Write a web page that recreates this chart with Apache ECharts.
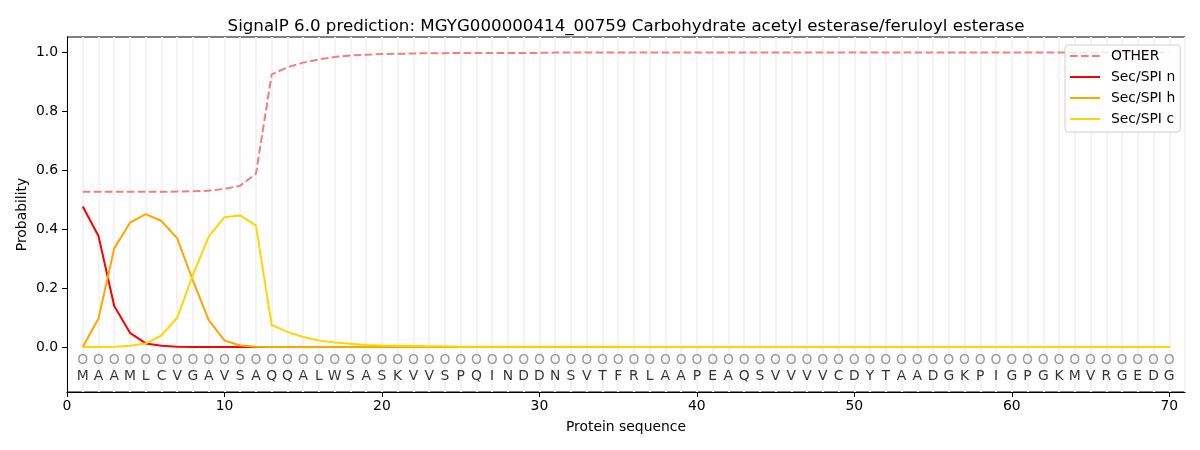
<!DOCTYPE html>
<html>
<head>
<meta charset="utf-8">
<script src="https://cdn.jsdelivr.net/npm/echarts@6/dist/echarts.min.js"></script>
<style>html,body{margin:0;padding:0;background:#fff}#c{width:1200px;height:450px}</style>
</head>
<body>
<div id="c"></div>
<script>
const TITLE = "SignalP 6.0 prediction: MGYG000000414_00759 Carbohydrate acetyl esterase/feruloyl esterase";
const sequence = ["M","A","A","M","L","C","V","G","A","V","S","A","Q","Q","A","L","W","S","A","S","K","V","V","S","P","Q","I","N","D","D","N","S","V","T","F","R","L","A","A","P","E","A","Q","S","V","V","V","V","C","D","Y","T","A","A","D","G","K","P","I","G","P","G","K","M","V","R","G","E","D","G"];
const positions = [1,2,3,4,5,6,7,8,9,10,11,12,13,14,15,16,17,18,19,20,21,22,23,24,25,26,27,28,29,30,31,32,33,34,35,36,37,38,39,40,41,42,43,44,45,46,47,48,49,50,51,52,53,54,55,56,57,58,59,60,61,62,63,64,65,66,67,68,69,70];
const other = [0.527,0.527,0.527,0.527,0.527,0.527,0.528,0.529,0.531,0.537,0.548,0.588,0.926,0.950,0.966,0.977,0.985,0.990,0.993,0.995,0.996,0.997,0.998,0.998,0.999,0.999,0.999,0.999,0.999,0.999,1,1,1,1,1,1,1,1,1,1,1,1,1,1,1,1,1,1,1,1,1,1,1,1,1,1,1,1,1,1,1,1,1,1,1,1,1,1,1,1];
const secN = [0.477,0.377,0.139,0.048,0.012,0.004,0.001,0,0,0,0,0,0,0,0,0,0,0,0,0,0,0,0,0,0,0,0,0,0,0,0,0,0,0,0,0,0,0,0,0,0,0,0,0,0,0,0,0,0,0,0,0,0,0,0,0,0,0,0,0,0,0,0,0,0,0,0,0,0,0];
const secH = [0,0.097,0.335,0.422,0.451,0.428,0.369,0.225,0.091,0.022,0.005,0.001,0,0,0,0,0,0,0,0,0,0,0,0,0,0,0,0,0,0,0,0,0,0,0,0,0,0,0,0,0,0,0,0,0,0,0,0,0,0,0,0,0,0,0,0,0,0,0,0,0,0,0,0,0,0,0,0,0,0];
const secC = [0,0,0.001,0.004,0.012,0.039,0.100,0.245,0.375,0.441,0.447,0.412,0.074,0.051,0.034,0.022,0.015,0.011,0.007,0.005,0.004,0.003,0.002,0.002,0.001,0.001,0.001,0.001,0.001,0.001,0.001,0.001,0.001,0.001,0.001,0,0,0,0,0,0,0,0,0,0,0,0,0,0,0,0,0,0,0,0,0,0,0,0,0,0,0,0,0,0,0,0,0,0,0];
const yTicks = [0,0.2,0.4,0.6,0.8,1.0];
const MARK_Y = -0.045;
const LETTER_Y = -0.1;

const FONT = "DejaVu Sans";
const FS = 13.9;
const pair = arr => positions.map((p,i)=>[p, arr[i]]);

const chart = echarts.init(document.getElementById('c'), null, {renderer:'canvas'});
chart.setOption({
  animation:false,
  backgroundColor:'#fff',
  textStyle:{fontFamily:FONT},
  title:{text:TITLE,left:621,textAlign:'center',top:13,textStyle:{fontFamily:FONT,fontSize:16.67,fontWeight:'normal',color:'#000'}},
  grid:{left:67,right:15,top:37,bottom:58,show:true,borderColor:'#000',borderWidth:1,backgroundColor:'transparent'},
  legend:{
    left:1065, top:45, orient:'vertical', align:'left',
    data:['OTHER','Sec/SPI n','Sec/SPI h','Sec/SPI c'],
    itemWidth:30, itemHeight:14, itemGap:7,
    padding:[4,5,6,4],
    borderColor:'#d0d0d0', borderWidth:1, borderRadius:3,
    backgroundColor:'rgba(255,255,255,0.8)',
    itemStyle:{opacity:0},
    textStyle:{fontFamily:FONT,fontSize:FS,color:'#000',padding:[0,0,0,6]}
  },
  xAxis:{
    type:'value', min:0, max:71, interval:10,
    name:'Protein sequence', nameLocation:'middle', nameGap:28, nameMoveOverlap:false,
    nameTextStyle:{fontFamily:FONT,fontSize:FS,color:'#000'},
    axisLine:{show:true,onZero:false,lineStyle:{color:'#000',width:1}},
    axisTick:{show:true,inside:false,length:5,lineStyle:{color:'#000'}},
    axisLabel:{fontFamily:FONT,fontSize:FS,color:'#000',margin:7,showMaxLabel:false},
    splitLine:{show:true,lineStyle:{color:'#f3f3f3',width:2}},
    minorTick:{show:false,splitNumber:10},
    minorSplitLine:{show:true,lineStyle:{color:'#f3f3f3',width:2}}
  },
  yAxis:{
    type:'value', min:-0.153, max:1.053,
    name:'Probability', nameLocation:'middle', nameGap:38, nameRotate:90, nameMoveOverlap:false,
    nameTextStyle:{fontFamily:FONT,fontSize:FS,color:'#000'},
    axisLine:{show:true,onZero:false,lineStyle:{color:'#000',width:1}},
    axisTick:{show:true,inside:false,length:5,lineStyle:{color:'#000'},customValues:yTicks},
    axisLabel:{fontFamily:FONT,fontSize:FS,color:'#000',margin:9,customValues:yTicks,formatter:v=>v.toFixed(1)},
    splitLine:{show:false}
  },
  series:[
    {name:'OTHER',type:'line',data:pair(other),showSymbol:false,symbol:'none',lineStyle:{color:'#f08080',width:2,type:[7.7,3.3]},itemStyle:{color:'#f08080'},z:3},
    {name:'Sec/SPI n',type:'line',data:pair(secN),showSymbol:false,symbol:'none',lineStyle:{color:'#ff0000',width:2},itemStyle:{color:'#ff0000'},z:4},
    {name:'Sec/SPI h',type:'line',data:pair(secH),showSymbol:false,symbol:'none',lineStyle:{color:'#ffa500',width:2},itemStyle:{color:'#ffa500'},z:5},
    {name:'Sec/SPI c',type:'line',data:pair(secC),showSymbol:false,symbol:'none',lineStyle:{color:'#ffd700',width:2},itemStyle:{color:'#ffd700'},z:6},
    {name:'marks',type:'scatter',data:positions.map(p=>[p,MARK_Y]),symbol:'circle',symbolSize:1,itemStyle:{color:'rgba(0,0,0,0)'},silent:true,
      label:{show:true,position:'inside',formatter:'O',fontFamily:FONT,fontSize:FS,color:'#808080'}},
    {name:'letters',type:'scatter',data:positions.map((p,i)=>({value:[p,LETTER_Y],name:sequence[i]})),symbol:'circle',symbolSize:1,itemStyle:{color:'rgba(0,0,0,0)'},silent:true,
      label:{show:true,position:'inside',formatter:p=>sequence[p.dataIndex],fontFamily:FONT,fontSize:FS,color:'#000'}}
  ]
});
</script>
</body>
</html>
